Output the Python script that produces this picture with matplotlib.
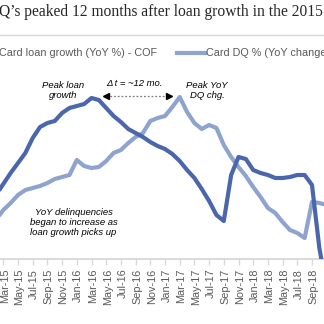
import matplotlib
matplotlib.use("Agg")
import matplotlib.pyplot as plt
from matplotlib.lines import Line2D
from matplotlib.transforms import ScaledTranslation

# Month index 0 = Mar-15; series run from Feb-15 (-1) to Nov-18 (44)
months = list(range(-1, 45))

# Card loan growth, YoY % (Capital One)
loan_growth = [3.20, 3.75, 4.30, 4.80, 5.30, 6.05, 6.60, 6.80, 6.90, 7.30,
               7.55, 7.65, 7.75, 8.05, 7.95, 7.55, 7.15, 6.85, 6.50, 6.30,
               6.10, 5.85, 5.65, 5.50, 5.25, 4.90, 4.45, 4.05, 3.50, 2.90,
               2.20, 1.90, 4.20, 5.10, 5.00, 4.45, 4.30, 4.20, 4.05, 4.05,
               4.10, 4.20, 4.20, 3.70, 0.55, -1.50]

# Card delinquency %, YoY change
dq_change = [-6.1, -5.1, -4.4, -3.6, -3.1, -2.9, -2.7, -2.4, -2.0, -1.8,
             -1.6, -0.1, -0.7, -0.9, -0.8, -0.2, 0.6, 0.9, 1.6, 2.2,
             2.6, 3.8, 4.1, 4.3, 5.2, 6.2, 4.7, 3.6, 3.0, 3.4,
             3.1, 1.4, 0.2, -0.8, -1.7, -2.8, -3.8, -4.9, -5.4, -6.3,
             -7.1, -7.4, -7.9, -4.3, -4.4, -4.6]

tick_months = list(range(0, 43, 2))
tick_labels = ["Mar-15", "May-15", "Jul-15", "Sep-15", "Nov-15", "Jan-16",
               "Mar-16", "May-16", "Jul-16", "Sep-16", "Nov-16", "Jan-17",
               "Mar-17", "May-17", "Jul-17", "Sep-17", "Nov-17", "Jan-18",
               "Mar-18", "May-18", "Jul-18", "Sep-18"]

DARK = "#4a67ad"
LIGHT = "#8ea4cf"
GRID_GRAY = "#d9d9d9"
TEXT_GRAY = "#595959"

W = H = 324
fig = plt.figure(figsize=(W / 100, H / 100), dpi=100)
fig.patch.set_facecolor("white")

def fx(px):
    return px / W

def fy(py):
    return 1 - py / H

# Plot area
ax = fig.add_axes([0, fy(259), 1, fy(60) - fy(259)])
ax2 = ax.twinx()
for a in (ax, ax2):
    a.patch.set_visible(False)
    for s in ("top", "left", "right"):
        a.spines[s].set_visible(False)
    a.set_yticks([])
ax2.spines["bottom"].set_visible(False)
ax.spines["bottom"].set_color(GRID_GRAY)
ax.spines["bottom"].set_linewidth(1.4)

ax.set_xlim((0 - 3.3) / 7.35, (324 - 3.3) / 7.35)
ax2.set_xlim(ax.get_xlim())
ax.set_ylim(0, 9.95)
ax2.set_ylim(-10, 9.9)

ax.set_xticks(tick_months)
ax.set_xticklabels(tick_labels, rotation=90, fontsize=7.8,
                   family="Liberation Sans", color=TEXT_GRAY)
ax.tick_params(axis="x", direction="out", length=4, width=1,
               color=GRID_GRAY, pad=3)
shift = ScaledTranslation(1.5 / 100, 0, fig.dpi_scale_trans)
for lbl in ax.get_xticklabels():
    lbl.set_transform(lbl.get_transform() + shift)

ax.plot(months, loan_growth, color=DARK, lw=3, solid_capstyle="butt",
        solid_joinstyle="round", zorder=3)
ax2.plot(months, dq_change, color=LIGHT, lw=3, solid_capstyle="butt",
         solid_joinstyle="round", zorder=2)
ax2.set_zorder(ax.get_zorder() - 1)
ax.patch.set_visible(False)

# Annotations
ann = dict(fontsize=6.8, family="Liberation Sans", style="italic",
           color="black", ha="center", va="center", linespacing=1.15)
ax.text(8.12, 8.43, "Peak loan\ngrowth", **ann)
ax.text(27.7, 8.43, "Peak YoY\nDQ chg.", **ann)
ax.text(17.9, 8.75, "Δ t = ~12 mo.", **ann)
ax.text(9.55, 1.83,
        "YoY delinquencies\nbegan to increase as\nloan growth picks up",
        **ann)

# Dotted span between the two peaks
x0, x1, ya = 14.0, 22.6, 8.15
ax.plot([x0, x1], [ya, ya], color="#7f7f7f", lw=0.9, ls=(0, (1.5, 1.5)),
        zorder=4)
ax.plot([x0], [ya], marker="<", color="black", ms=5, zorder=5)
ax.plot([x1], [ya], marker=">", color="black", ms=5, zorder=5)

# Title and separator
fig.text(fx(-1), fy(12), "Q\u2019s peaked 12 months after loan growth in the 2015",
         family="Liberation Serif", fontsize=11.2, color="#262626",
         ha="left", va="center")
fig.add_artist(Line2D([0, 1], [fy(35), fy(35)], transform=fig.transFigure,
                      color=GRID_GRAY, lw=1))

# Legend row
leg = dict(family="Liberation Sans", fontsize=7.8, color=TEXT_GRAY,
           va="center", ha="left")
fig.text(fx(-1), fy(53), "Card loan growth (YoY %) - COF", **leg)
fig.add_artist(Line2D([fx(177), fx(205)], [fy(53), fy(53)],
                      transform=fig.transFigure, color=LIGHT, lw=3))
fig.text(fx(206), fy(53), "Card DQ % (YoY change", **leg)

fig.savefig("out.png", dpi=100, facecolor="white")
